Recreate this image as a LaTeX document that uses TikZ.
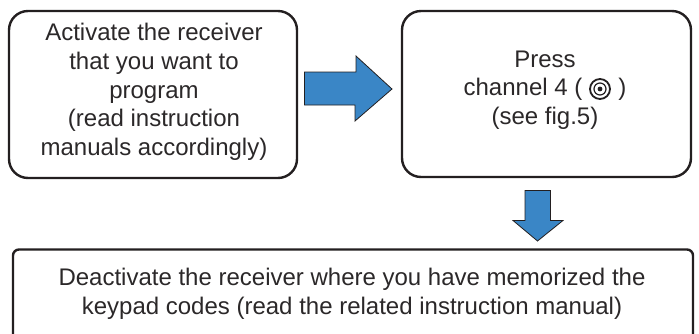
\documentclass[tikz,border=0pt]{standalone}
\usepackage{fontspec}
\setmainfont{Liberation Sans}
\definecolor{bl}{HTML}{3A86C6}
\definecolor{ln}{HTML}{231F20}
\definecolor{tx}{HTML}{2B2829}
\begin{document}
\begin{tikzpicture}[x=1pt,y=-1pt,
  boxa/.style={draw=ln,line width=2.4pt,rounded corners=19pt,fill=white},
  boxb/.style={draw=ln,line width=2.4pt,rounded corners=6pt,fill=white},
  arr/.style={draw=ln,line width=0.8pt,fill=bl,line join=miter},
  lab/.style={text=tx,font=\fontsize{24}{28.7}\selectfont,align=center,inner sep=0pt}]
\useasboundingbox (0,0) rectangle (699,333);
\begin{scope}
\clip (0,0) rectangle (699,333);
\path[boxa] (9,11) rectangle (297,178);
\node[lab] (a) at (154,92) {Activate the receiver\\that you want to\\program\\(read instruction\\manuals accordingly)};
\path[boxa] (402,11) rectangle (691,177);
\node[lab] (b) at (545,90) {Press\\channel 4 (\hspace{1.5em})\\(see fig.5)};
\path[boxb] (13,249.5) rectangle (693,345);
\node[lab] (c) at (352,294) {Deactivate the receiver where you have memorized the\\keypad codes (read the related instruction manual)};
\end{scope}
\draw[arr] (304.5,72) -- (356,72) -- (356,56) -- (392,89) -- (355,121) -- (355,105) -- (304.5,105) -- cycle;
\draw[arr] (525,190.5) -- (550.5,190.5) -- (550.5,220.5) -- (563,220.5) -- (537.5,241) -- (513,220.5) -- (525,220.5) -- cycle;
\draw[ln,line width=1.8pt] (600,89) circle (10pt);
\draw[ln,line width=1.2pt] (600,89) circle (6pt);
\fill[ln] (600,89) circle (2.4pt);
\end{tikzpicture}
\end{document}
